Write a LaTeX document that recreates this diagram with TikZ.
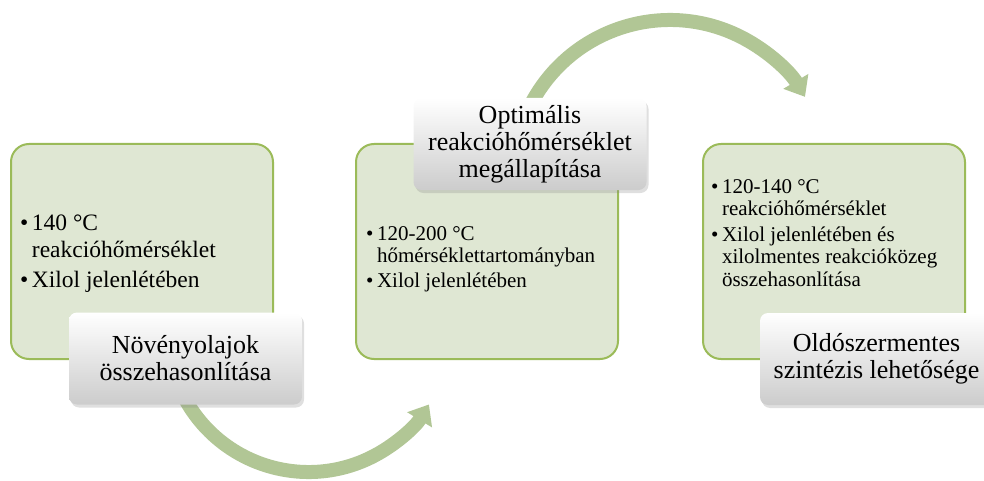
\documentclass[tikz,border=0pt]{standalone}
\usepackage{fontspec}
\setmainfont{Liberation Serif}
\usetikzlibrary{arrows.meta,shadows}

\definecolor{boxfill}{HTML}{DFE7D3}
\definecolor{boxline}{HTML}{9BBB59}
\definecolor{flowgreen}{HTML}{B1C695}

\tikzset{
  stagebox/.style={draw=boxline, line width=2pt, fill=boxfill, rounded corners=18pt,
    minimum width=262pt, minimum height=215pt, inner sep=0pt, anchor=north west},
  titlebox/.style={rounded corners=8pt, top color=white, bottom color=black!20,
    minimum width=233pt, minimum height=92pt, align=center, inner sep=0pt,
    font=\fontsize{26}{27}\selectfont,
    drop shadow={shadow xshift=2pt, shadow yshift=-3pt, opacity=0.25}},
  flow/.style={line width=14pt, draw=flowgreen, -{Triangle[width=28pt,length=18pt]}},
  bullets/.style={anchor=base west, inner sep=0pt}
}

\begin{document}
\begin{tikzpicture}[x=1pt,y=1pt]
	    \useasboundingbox (0,0) rectangle (984,480);
	    \clip (0,0) rectangle (984,480);

	    % stages
	    \node[stagebox] (s1) at (10,337) {};
	    \node[stagebox] (s2) at (355,337) {};
	    \node[stagebox] (s3) at (702,337) {};

	    % arrows between the stages
	    \path (308.6,149) coordinate (c1) ++(208:141) coordinate (f1);
	    \draw[flow] (f1) arc[start angle=208, end angle=328.6, radius=141];
	    \path (670,303) coordinate (c2) ++(152:157) coordinate (f2);
	    \draw[flow] (f2) arc[start angle=152, end angle=30.7, radius=157];

	    % titles
	    \node[titlebox] (t1) at (185.5,121.5) {Növényolajok\\összehasonlítása};
	    \node[titlebox] (t2) at (530,336) {Optimális\\reakcióhőmérséklet\\megállapítása};
	    \node[titlebox] (t3) at (876.5,121) {Oldószermentes\\szintézis lehetősége};

	    % contents
	    \node[bullets] (b1) at (20,250) {\fontsize{23.5}{27}\selectfont
	      \begin{tabular}[t]{@{}l@{\hspace{3.5pt}}l@{}}
	        \textbullet & 140 °C\\
	                    & reakcióhőmérséklet\\[3pt]
	        \textbullet & Xilol jelenlétében
	      \end{tabular}};
	    \node[bullets] (b2) at (366,240) {\fontsize{21}{22.5}\selectfont
	      \begin{tabular}[t]{@{}l@{\hspace{3.5pt}}l@{}}
	        \textbullet & 120-200 °C\\
	                    & hőmérséklettartományban\\[2.5pt]
	        \textbullet & Xilol jelenlétében
	      \end{tabular}};
	    \node[bullets] (b3) at (711,287) {\fontsize{21}{22.5}\selectfont
	      \begin{tabular}[t]{@{}l@{\hspace{3.5pt}}l@{}}
	        \textbullet & 120-140 °C\\
	                    & reakcióhőmérséklet\\[3pt]
	        \textbullet & Xilol jelenlétében és\\
	                    & xilolmentes reakcióközeg\\
	                    & összehasonlítása
	      \end{tabular}};
	\end{tikzpicture}
\end{document}
